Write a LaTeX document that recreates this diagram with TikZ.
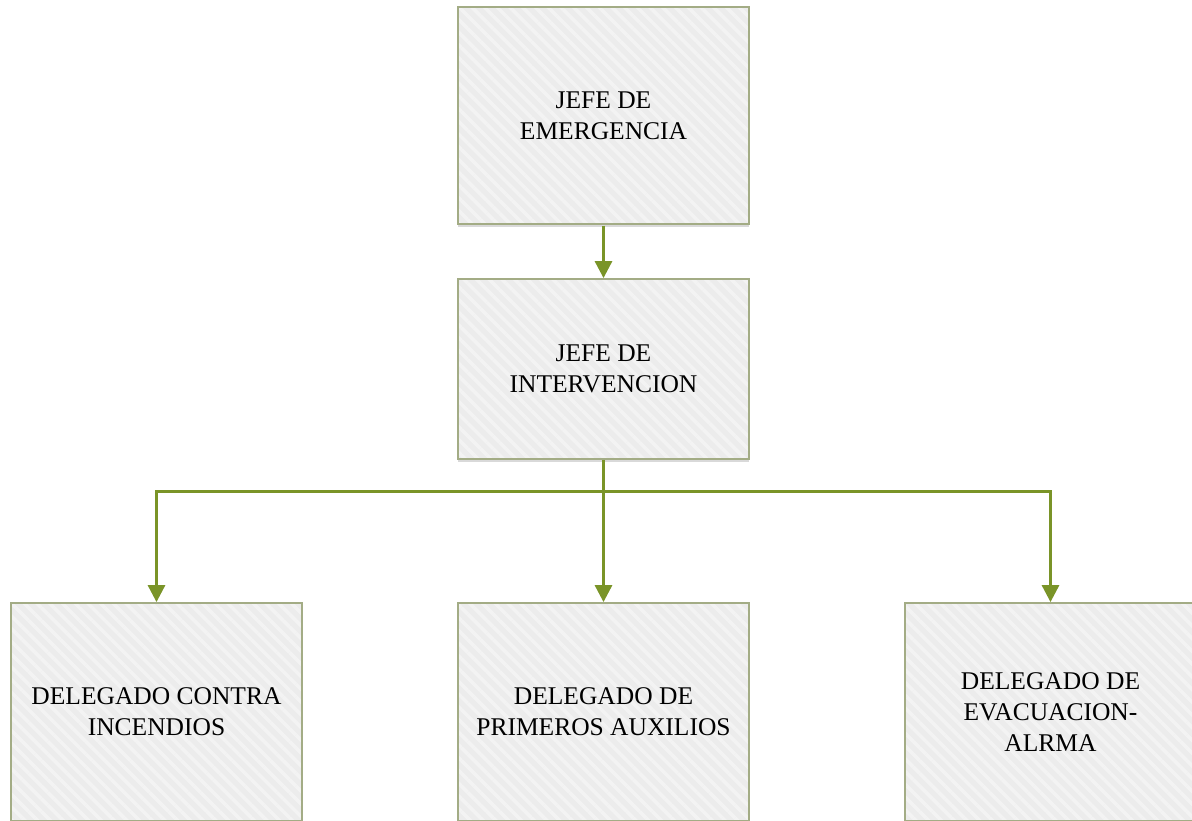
\documentclass[tikz,border=0pt]{standalone}
\usepackage{fontspec}
\setmainfont{Liberation Serif}
\usetikzlibrary{arrows.meta,patterns.meta,shadows}
\definecolor{boxfill}{RGB}{236,236,236}
\definecolor{stripe}{RGB}{243,243,243}
\definecolor{boxborder}{RGB}{163,172,133}
\definecolor{arrowgreen}{RGB}{122,148,40}
\tikzset{
  orgbox/.style={rectangle, draw=boxborder, line width=1.8pt,
    drop shadow={shadow xshift=0pt, shadow yshift=-3pt, opacity=0.25, fill=black!60},
    preaction={fill=boxfill},
    pattern={Lines[angle=-45,distance=9pt,line width=3.5pt]}, pattern color=stripe,
    minimum width=291pt, align=center, inner sep=0pt,
    font=\fontsize{25.5pt}{31pt}\selectfont},
  conn/.style={draw=arrowgreen, line width=3pt, -{Triangle[length=17pt,width=17pt]}},
  connline/.style={draw=arrowgreen, line width=3pt}
}
\begin{document}
\begin{tikzpicture}[x=1pt,y=-1pt]
\useasboundingbox (0,0) rectangle (1192,821);
\clip (0,0) rectangle (1192,821);
\node[orgbox, minimum height=217pt] (jefe) at (603.5,115.5) {JEFE DE\\EMERGENCIA};
\node[orgbox, minimum height=180pt] (inter) at (603.5,369) {JEFE DE\\INTERVENCION};
\node[orgbox, minimum height=218pt] (inc) at (156.5,712) {DELEGADO CONTRA\\INCENDIOS};
\node[orgbox, minimum height=218pt] (aux) at (603.5,712) {DELEGADO DE\\PRIMEROS AUXILIOS};
\node[orgbox, minimum height=218pt] (eva) at (1050.5,712) {DELEGADO DE\\EVACUACION-\\ALRMA};
\coordinate (bus) at (603.5,491);
\draw[conn] (jefe.south) -- (inter.north);
\draw[connline] (inter.south) -- (bus);
\draw[conn] (bus) -| (inc.north);
\draw[conn] (bus) -| (eva.north);
\draw[conn] (bus) -- (aux.north);
\end{tikzpicture}
\end{document}
